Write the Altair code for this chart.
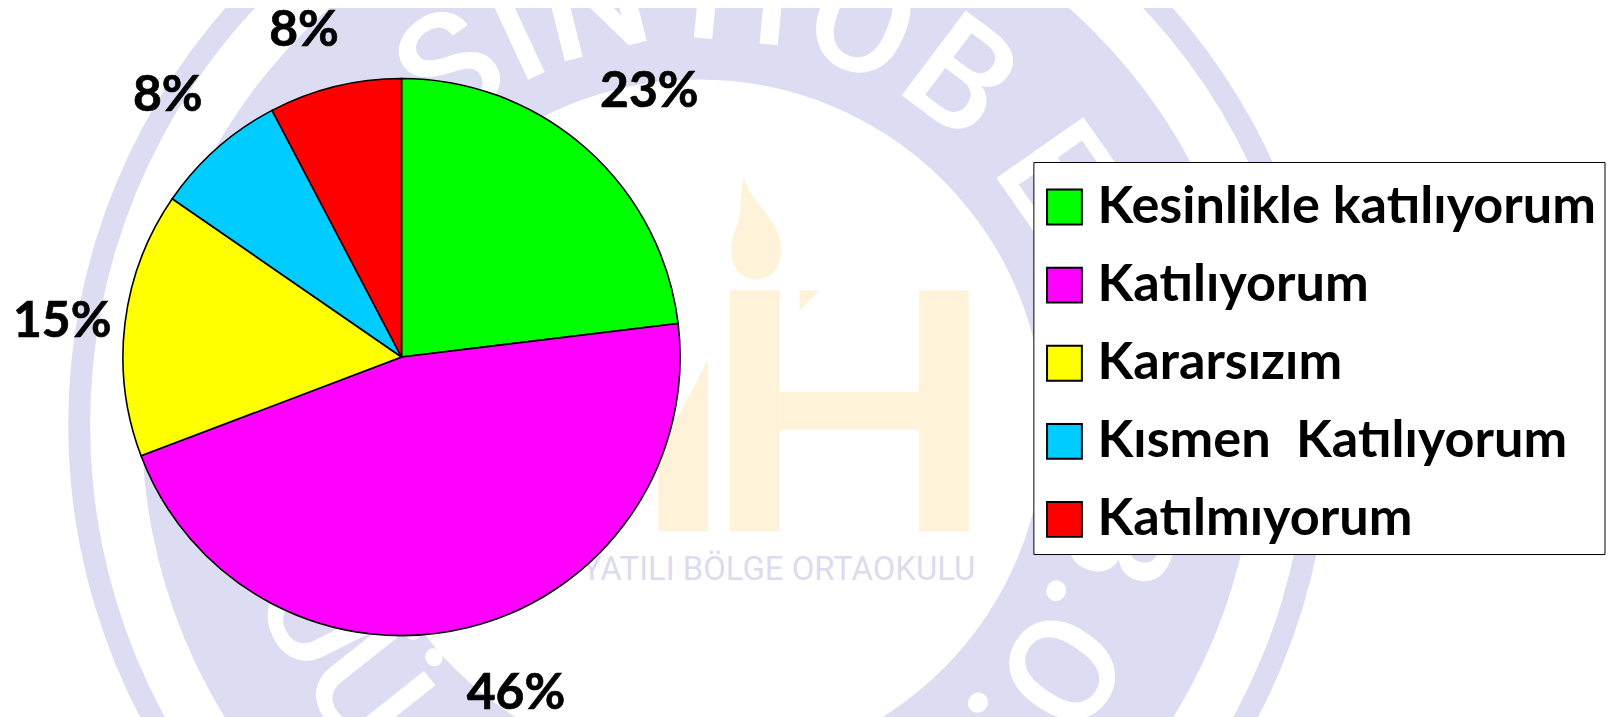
import math
import altair as alt
import pandas as pd

categories = ["Kesinlikle katılıyorum", "Katılıyorum", "Kararsızım", "Kısmen\u00a0 Katılıyorum", "Katılmıyorum"]
values = [3, 6, 2, 1, 1]
colors = ["#00ff00", "#ff00ff", "#ffff00", "#00ccff", "#ff0000"]
pct_labels = ["23%", "46%", "15%", "8%", "8%"]

OFFX, OFFY = 5.5, 8
def vx(x): return alt.value(x - OFFX)
def vy(y): return alt.value(y - OFFY)

pie_df = pd.DataFrame({"cat": categories, "val": values, "idx": range(5)})
one = pd.DataFrame({"a": [1]})

CX, CY = 700, 425
RING = "#dcdcf2"
PALE = "#fef2d9"
layers = []

# watermark rings
for inner, outer in [(612, 634), (347, 560)]:
    layers.append(alt.Chart(one).mark_arc(innerRadius=inner, outerRadius=outer, color=RING, theta=0, theta2=6.2832)
                  .encode(x=vx(CX), y=vy(CY)))

# watermark letters: (letter, position around the ring, rotation)
wm_letters = ["S", "İ", "N", "H", "O", "B", "E", "K", "Y", ".", "B", ".", "O", ".", "Ü", "U"]
wm_angles = [-35, -25, -14, 5.5, 22, 37, 55, 69, 84, 96, 105, 115, 124, 135, 231.5, 243.5]
wm_rot = [-35, -25, -14, 5.5, 22, 37, 55, 69, 84, 96, 105, 115, 124, 135, 51.5, 63.5]
for ch, th, rot in zip(wm_letters, wm_angles, wm_rot):
    t = math.radians(th)
    layers.append(alt.Chart(one).mark_text(text=ch, font="Roboto", fontWeight=500, fontSize=150, color="white",
                                           align="center", baseline="middle", angle=rot % 360)
                  .encode(x=vx(CX + 432 * math.sin(t)), y=vy(CY - 432 * math.cos(t))))

# watermark logo
for x0, x1, y0, y1 in [(731, 781, 290, 532), (921, 971, 290, 532), (781, 921, 392, 430)]:
    layers.append(alt.Chart(one).mark_rect(color=PALE).encode(x=vx(x0), x2=vx(x1), y=vy(y0), y2=vy(y1)))
logo_shapes = [
    ("M-0.29,1 L0.29,1 L0.29,-1 L-0.29,0.1 Z", 684, 446, 29584),
    ("M-0.25,-1 C-0.15,-0.6 0.05,-0.5 0.3,-0.1 C0.6,0.3 0.5,1 0,1 C-0.5,1 -0.6,0.4 -0.4,0 C-0.25,-0.3 -0.35,-0.6 -0.25,-1 Z", 758, 227, 10816),
    ("M-1,1 L-1,-1 L1,-1 Z", 811, 300, 400),
]
for shp, sx, sy, sz in logo_shapes:
    layers.append(alt.Chart(one).mark_point(shape=shp, filled=True, color=PALE, opacity=1, size=sz, strokeWidth=0)
                  .encode(x=vx(sx), y=vy(sy)))
layers.append(alt.Chart(one).mark_text(text="YATILI BÖLGE ORTAOKULU", font="Roboto", fontSize=33,
                                       color="#dcdcee", align="center", baseline="alphabetic").encode(x=vx(780), y=vy(581)))

# pie
pie = alt.Chart(pie_df).mark_arc(outerRadius=280, stroke="black", strokeWidth=1.6).encode(
    theta=alt.Theta("val:Q", stack=True, scale=alt.Scale(range=[0, 2 * math.pi])),
    order=alt.Order("idx:Q"),
    color=alt.Color("cat:N", sort=None, scale=alt.Scale(domain=categories, range=colors), legend=alt.Legend(
        orient="none", legendX=1036 - OFFX, legendY=161 - OFFY, title=" ", titleFontSize=1, titlePadding=10,
        labelFont="Lato", labelFontWeight="bold", labelFontSize=52.5, labelColor="black", labelLimit=1000,
        labelOffset=7, symbolOffset=-3, symbolType="square", symbolSize=1225, symbolStrokeColor="black",
        symbolStrokeWidth=2, strokeColor="black", fillColor="white", padding=8, rowPadding=25.5,
        values=categories)),
    x=vx(401), y=vy(357),
)
layers.append(pie)

# percentage labels
label_x = [650, 516, 60, 166, 303]
label_y = [91, 696, 322, 95, 29]
for txt, lx, ly in zip(pct_labels, label_x, label_y):
    layers.append(alt.Chart(one).mark_text(text=txt, font="Lato", fontWeight="bold", fontSize=50, color="black",
                                           stroke="black", strokeWidth=0.7,
                                           align="center", baseline="middle").encode(x=vx(lx), y=vy(ly)))

chart = alt.layer(*layers).properties(
    width=1607, height=709, padding=0, autosize=alt.AutoSizeParams(type="none")
).configure_view(stroke=None).resolve_scale(color="independent")

chart.save("out.html", embed_options={"renderer": "svg", "actions": False})
